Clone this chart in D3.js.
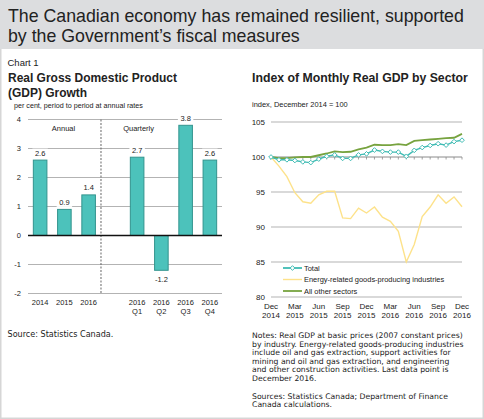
<!DOCTYPE html>
<html><head><meta charset="utf-8">
<script src="https://cdn.jsdelivr.net/npm/d3@7"></script>
<style>
html,body{margin:0;padding:0;background:#fff;}
svg{display:block;}
text{font-family:"Liberation Sans",Arial,sans-serif;fill:#222;}
.g{font-family:"DejaVu Sans",sans-serif;}
</style></head>
<body>
<script>
// ---------- DATA ----------
const headerLines = ["The Canadian economy has remained resilient, supported", "by the Government\u2019s fiscal measures"];
const barKeys = ["2014","2015","2016","gap","2016Q1","2016Q2","2016Q3","2016Q4"];
const barLine1 = ["2014","2015","2016","","2016","2016","2016","2016"];
const barLine2 = ["","","","","Q1","Q2","Q3","Q4"];
const barValues = [2.6, 0.9, 1.4, null, 2.7, -1.2, 3.8, 2.6];
const barValueLabels = ["2.6","0.9","1.4","","2.7","-1.2","3.8","2.6"];
const barTicks = [-2,-1,0,1,2,3,4];

const months = d3.range(25); // Dec 2014 .. Dec 2016
const monthTicks = [0,3,6,9,12,15,18,21,24];
const monthTickLine1 = ["Dec","Mar","Jun","Sep","Dec","Mar","Jun","Sep","Dec"];
const monthTickLine2 = ["2014","2015","2015","2015","2015","2016","2016","2016","2016"];
const indexTicks = [80,85,90,95,100,105];
const totalSeries = [100,99.6,99.6,99.5,99.3,99.2,99.7,100.1,100.3,99.8,99.8,100.3,100.45,101.0,100.8,100.7,100.7,100.1,100.95,101.35,101.65,101.9,101.7,102.2,102.4];
const energySeries = [100,98.7,97.2,94.9,93.6,93.4,94.6,95.1,95.1,91.3,91.2,92.7,92.0,92.85,91.4,90.8,89.4,85.0,87.5,91.5,92.85,94.6,93.4,94.3,92.9];
const otherSeries = [100,99.85,99.85,99.95,100,100,100.25,100.5,100.8,100.7,100.75,101.1,101.35,101.75,101.7,101.7,101.85,101.7,102.3,102.4,102.5,102.6,102.7,102.75,103.3];
const legendNames = ["Total","Energy-related goods-producing industries","All other sectors"];
const notesLines = ["Notes: Real GDP at basic prices (2007 constant prices)","by industry. Energy-related goods-producing industries","include oil and gas extraction, support activities for","mining and oil and gas extraction, and engineering","and other construction activities. Last data point is","December 2016."];
const sourcesLines = ["Sources: Statistics Canada; Department of Finance","Canada calculations."];

// ---------- STYLE ----------
const W=484,H=419;
const teal="#3fbcb4", green="#77a33f", yellow="#fde28a";
const barFill="#4cc2bb", barStroke="#33948e", grid="#b3b3b3";

const svg=d3.select("body").append("svg").attr("width",W).attr("height",H);
function fitSize(sel,w){
  const base=10; sel.attr("font-size",base);
  const len=sel.node().getComputedTextLength();
  const s=base*w/len; sel.attr("font-size",s); return s;
}

// frame + header
svg.append("rect").attr("x",0.75).attr("y",0.75).attr("width",W-1.5).attr("height",H-1.5).attr("fill","#fff").attr("stroke","#d6d6d6").attr("stroke-width",1.5);
svg.append("rect").attr("x",0).attr("y",0).attr("width",W).attr("height",49).attr("fill","#dcdddf");
const h1=svg.append("text").attr("x",8).attr("y",22).attr("fill","#1a1a1a").text(headerLines[0]);
const hs=fitSize(h1,456);
svg.append("text").attr("x",8).attr("y",42).attr("fill","#1a1a1a").attr("font-size",hs).text(headerLines[1]);

// ---------- BAR CHART ----------
svg.append("text").attr("x",7.5).attr("y",66).attr("fill","#333").attr("font-size",9.5).text("Chart 1");
const ts=fitSize(svg.append("text").attr("x",8).attr("y",82).attr("font-weight","bold").attr("fill","#111").text("Real Gross Domestic Product"),169);
svg.append("text").attr("x",8).attr("y",96.5).attr("font-size",ts).attr("font-weight","bold").attr("fill","#111").text("(GDP) Growth");
fitSize(svg.append("text").attr("x",14).attr("y",107.5).text("per cent, period to period at annual rates"),129);

const xb=d3.scaleBand().domain(barKeys).range([28,222]).paddingInner(0.44).paddingOuter(0.22);
const yb=d3.scaleLinear().domain([-2,4]).range([293.5,119.5]);
const bg=svg.append("g");
bg.selectAll(".grid").data(barTicks.filter(t=>t!==0)).join("line")
  .attr("x1",28).attr("x2",222).attr("y1",d=>yb(d)).attr("y2",d=>yb(d)).attr("stroke",grid).attr("stroke-width",1);
bg.selectAll(".yt").data(barTicks).join("text").attr("x",21).attr("y",d=>yb(d)+2.7).attr("text-anchor","end").attr("font-size",7.5).text(d=>d);
const sepX = xb("gap") - xb.step()*0.21;
bg.append("line").attr("x1",sepX).attr("x2",sepX).attr("y1",yb(4)).attr("y2",yb(-2)).attr("stroke","#666").attr("stroke-dasharray","2,1.5").attr("stroke-width",1);
bg.append("text").attr("x",63.5).attr("y",131).attr("text-anchor","middle").attr("font-size",7.5).text("Annual");
bg.append("text").attr("x",138.6).attr("y",131).attr("text-anchor","middle").attr("font-size",7.5).text("Quarterly");

const bars=barKeys.map((k,i)=>({k,v:barValues[i],lab:barValueLabels[i],l1:barLine1[i],l2:barLine2[i]}));
bg.selectAll(".bar").data(bars.filter(d=>d.v!==null)).join("rect")
  .attr("x",d=>xb(d.k)).attr("width",xb.bandwidth())
  .attr("y",d=>yb(Math.max(0,d.v))).attr("height",d=>Math.abs(yb(d.v)-yb(0)))
  .attr("fill",barFill).attr("stroke",barStroke).attr("stroke-width",1);
bg.append("line").attr("x1",28).attr("x2",222).attr("y1",yb(0)).attr("y2",yb(0)).attr("stroke","#111").attr("stroke-width",1.5);
const vl=bg.selectAll(".vl").data(bars.filter(d=>d.v!==null)).join("g");
vl.each(function(d){
  const g=d3.select(this);
  const cx=xb(d.k)+xb.bandwidth()/2;
  const y=d.v>=0?yb(d.v)-4.5:yb(d.v)+11.5;
  const t=g.append("text").attr("x",cx).attr("y",y).attr("text-anchor","middle").attr("font-size",7.5).text(d.lab);
  const bb=t.node().getBBox();
  g.insert("rect","text").attr("x",bb.x-2.5).attr("y",bb.y).attr("width",bb.width+5).attr("height",bb.height).attr("fill","#fff");
});
bg.selectAll(".xl1").data(bars.filter(d=>d.l1)).join("text").attr("x",d=>xb(d.k)+xb.bandwidth()/2).attr("y",305).attr("text-anchor","middle").attr("font-size",7.5).text(d=>d.l1);
bg.selectAll(".xl2").data(bars.filter(d=>d.l2)).join("text").attr("x",d=>xb(d.k)+xb.bandwidth()/2).attr("y",313.5).attr("text-anchor","middle").attr("font-size",7.5).text(d=>d.l2);

// ---------- LINE CHART ----------
fitSize(svg.append("text").attr("x",252).attr("y",82).attr("font-weight","bold").attr("fill","#111").text("Index of Monthly Real GDP by Sector"),216);
fitSize(svg.append("text").attr("x",252).attr("y",107).text("index, December 2014 = 100"),96);

const xl=d3.scaleLinear().domain([0,24]).range([271,462]);
const yl=d3.scaleLinear().domain([80,105]).range([297,122]);
const lg=svg.append("g");
lg.selectAll(".grid").data(indexTicks.filter(t=>t!==100)).join("line")
  .attr("x1",xl(0)).attr("x2",xl(24)).attr("y1",d=>yl(d)).attr("y2",d=>yl(d)).attr("stroke",grid).attr("stroke-width",1);
lg.selectAll(".yt").data(indexTicks).join("text").attr("x",265).attr("y",d=>yl(d)+2.8).attr("text-anchor","end").attr("font-size",8).text(d=>d);
lg.append("line").attr("x1",xl(0)).attr("x2",xl(24)).attr("y1",yl(100)).attr("y2",yl(100)).attr("stroke","#8a8a8a").attr("stroke-width",1);
lg.selectAll(".mt").data(months).join("line").attr("x1",d=>xl(d)).attr("x2",d=>xl(d)).attr("y1",yl(100)).attr("y2",yl(100)+2.5).attr("stroke","#8a8a8a").attr("stroke-width",0.8);
lg.selectAll(".xt1").data(monthTicks).join("text").attr("x",d=>xl(d)).attr("y",309).attr("text-anchor","middle").attr("font-size",8).text((d,i)=>monthTickLine1[i]);
lg.selectAll(".xt2").data(monthTicks).join("text").attr("x",d=>xl(d)).attr("y",318).attr("text-anchor","middle").attr("font-size",8).text((d,i)=>monthTickLine2[i]);

const line=d3.line().x((d,i)=>xl(months[i])).y(d=>yl(d));
lg.append("path").attr("d",line(energySeries)).attr("fill","none").attr("stroke",yellow).attr("stroke-width",1.4);
lg.append("path").attr("d",line(otherSeries)).attr("fill","none").attr("stroke",green).attr("stroke-width",1.8);
lg.append("path").attr("d",line(totalSeries)).attr("fill","none").attr("stroke",teal).attr("stroke-width",1.4);
const diamond=d3.symbol().type(d3.symbolDiamond2).size(14);
lg.selectAll(".pt").data(totalSeries).join("path").attr("d",diamond)
  .attr("transform",(d,i)=>`translate(${xl(months[i])},${yl(d)})`).attr("fill","#fff").attr("stroke",teal).attr("stroke-width",1);

// legend
const legColors=[teal,yellow,green];
const legY=[268,279.5,291];
const legT=legendNames.map((n,i)=>{
  lg.append("line").attr("x1",283).attr("x2",302).attr("y1",legY[i]).attr("y2",legY[i]).attr("stroke",legColors[i]).attr("stroke-width",i===1?1.4:1.8);
  if(i===0) lg.append("path").attr("d",diamond).attr("transform",`translate(292.5,${legY[i]})`).attr("fill","#fff").attr("stroke",teal).attr("stroke-width",1);
  return lg.append("text").attr("x",304).attr("y",legY[i]+2.7).text(n);
});
const legSize=fitSize(legT[1],140.5);
legT.forEach(t=>t.attr("font-size",legSize));

// notes & sources (one font size for the whole block)
const nt=notesLines.map((s,i)=>svg.append("text").attr("class","g").attr("x",252).attr("y",338+i*8.55).attr("fill","#333").text(s));
const ns=fitSize(nt[0],211);
nt.forEach(t=>t.attr("font-size",ns));
sourcesLines.forEach((s,i)=>{
  svg.append("text").attr("class","g").attr("x",252).attr("y",399+i*8.4).attr("font-size",ns).attr("fill","#333").text(s);
});
svg.append("text").attr("class","g").attr("x",7.5).attr("y",337).attr("font-size",ns*1.05).attr("fill","#333").text("Source: Statistics Canada.");
</script>
</body></html>
